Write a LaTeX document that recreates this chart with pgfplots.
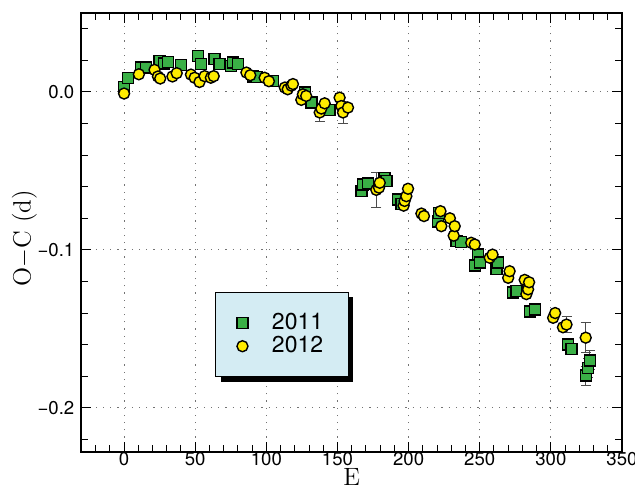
\documentclass[border=0pt]{standalone}
\usepackage{fontspec}
\usepackage{pgfplots}
\pgfplotsset{compat=1.18}
\usetikzlibrary{shadows}
\newfontfamily\heros{TeX Gyre Heros}
\definecolor{sqgreen}{RGB}{58,176,70}
\definecolor{dotyellow}{RGB}{255,236,0}
\definecolor{legblue}{RGB}{212,236,243}
\begin{document}
\begin{tikzpicture}
\begin{axis}[
    at={(0,0)}, anchor=south west,
    scale only axis,
    width=270.3pt, height=219.5pt,
    xmin=-30, xmax=350,
    ymin=-0.228, ymax=0.05,
    xtick={0,50,...,350},
    minor xtick={-20,-10,...,340},
    ytick={-0.2,-0.1,0},
    yticklabels={−0.2,−0.1,0.0},
    minor ytick={-0.22,-0.2,...,0.04},
    tick align=inside,
    major tick length=5pt,
    minor tick length=3.3pt,
    tick style={black, line width=0.5pt},
    axis line style={line width=1pt},
    grid=major,
    major grid style={draw=black!55, line width=0.5pt, dash pattern=on 0.6pt off 3pt},
    /pgf/number format/assume math mode=true,
    tick label style={font=\heros\fontsize{9.3}{10}\selectfont},
    xticklabel style={yshift=3.3pt},
    xlabel={E},
    ylabel={O$-$C (d)},
    label style={font=\fontsize{12.5}{14}\selectfont},
    xlabel style={at={(axis description cs:0.5,0)}, anchor=north, yshift=-8.1pt, inner sep=0pt},
    ylabel style={at={(axis description cs:-0.1055,0.487)}, anchor=center},
    legend style={
        at={(0.248,0.365)}, anchor=north west,
        fill=legblue, draw=black, line width=0.5pt,
        drop shadow={shadow xshift=2.5pt, shadow yshift=-2.5pt, fill=black, opacity=1},
        font=\heros\fontsize{11.5}{11}\selectfont,
        inner xsep=10.5pt, inner ysep=8.5pt,
        row sep=-2pt,
    },
    legend cell align=left,
]
% error bars of the 2011 points
\addplot[draw=none, mark=none, forget plot,
    error bars/.cd, y dir=both, y explicit,
    error bar style={draw=black!70, line width=0.5pt},
    error mark options={rotate=90, mark size=2.5pt, draw=black!70, line width=0.5pt}]
coordinates {
    (324.5,-0.1796) +- (0,0.006)
    (326.2,-0.1748) +- (0,0.006)
    (327.4,-0.1700) +- (0,0.006)
};
% error bars of the 2012 points
\addplot[draw=none, mark=none, forget plot,
    error bars/.cd, y dir=both, y explicit,
    error bar style={draw=black!70, line width=0.5pt},
    error mark options={rotate=90, mark size=2.5pt, draw=black!70, line width=0.5pt}]
coordinates {
    (137.5,-0.0130) +- (0,0.006)
    (153.9,-0.0130) +- (0,0.007)
    (177.3,-0.0620) +- (0,0.011)
    (311.0,-0.1473) +- (0,0.005)
    (324.5,-0.1556) +- (0,0.0097)
};
% 2011
\addplot[only marks, mark=square*, mark size=2.75pt,
    mark options={fill=sqgreen, draw=black, line width=0.7pt}]
coordinates {
    (0,0.003) (2.7,0.009) (12,0.0155) (15.6,0.0155) (25,0.0197) (28,0.018)
    (31,0.019) (40,0.017) (52,0.0228) (54,0.0176) (63.6,0.0207) (67,0.0176)
    (75,0.0165) (76.5,0.0186) (80,0.0176) (90.6,0.0098) (93,0.0095) (104.6,0.007)
    (127,-0.0004) (131.6,-0.0067) (144.5,-0.0114)
    (166.8,-0.0628) (168,-0.0585) (171.4,-0.058) (183,-0.0543) (184.4,-0.0564)
    (192.5,-0.068) (195,-0.071) (220.7,-0.082) (221.4,-0.0765)
    (233.6,-0.0945) (237,-0.095) (246.5,-0.110) (248.8,-0.103) (250,-0.108)
    (261.7,-0.112) (263,-0.108) (273.4,-0.127) (275.8,-0.126)
    (285.2,-0.139) (288.7,-0.1378) (312,-0.160) (314.5,-0.1627)
    (324.5,-0.1796) (326.2,-0.1748) (327.4,-0.170)
};
\addlegendentry{\hspace{10pt}2011\hspace{4pt}}
% 2012
\addplot[only marks, mark=*, mark size=2.75pt,
    mark options={fill=dotyellow, draw=black, line width=0.7pt}]
coordinates {
    (0,-0.001) (10.4,0.0112) (21.4,0.014) (23.8,0.0098) (25.4,0.0085)
    (34,0.0098) (37,0.0119) (47,0.011) (49.6,0.009) (53,0.0063) (56.6,0.010)
    (61,0.009) (63,0.010) (86,0.0123) (88.7,0.0106) (98.8,0.009) (101.8,0.0068)
    (113,0.0028) (115,0.0017) (117.6,0.004) (118.7,0.005)
    (124.6,-0.005) (125.7,-0.0015) (128,-0.0025)
    (137.5,-0.013) (138.7,-0.0105) (141,-0.0072)
    (151.5,-0.0036) (152.7,-0.0089) (153.9,-0.013) (157.4,-0.0099)
    (177.3,-0.062) (179.2,-0.0606) (179.7,-0.0575)
    (196.5,-0.072) (197.2,-0.069) (198.4,-0.066) (199.6,-0.0613)
    (209,-0.077) (210.8,-0.0786) (222.4,-0.0755) (223,-0.085)
    (229,-0.080) (231.7,-0.091) (232.4,-0.085) (244,-0.0955) (246.5,-0.0966)
    (257,-0.105) (259,-0.103) (270,-0.1177) (271,-0.1135)
    (281.6,-0.119) (282.8,-0.128) (284,-0.125) (284.7,-0.1205)
    (301.6,-0.143) (303,-0.140) (308.5,-0.149) (311,-0.1473) (324.5,-0.1556)
};
\addlegendentry{\hspace{10pt}2012\hspace{4pt}}
\end{axis}
\pgfresetboundingbox
\path (-40.7pt,-18.5pt) rectangle (276.8pt,226pt);
\end{tikzpicture}
\end{document}
